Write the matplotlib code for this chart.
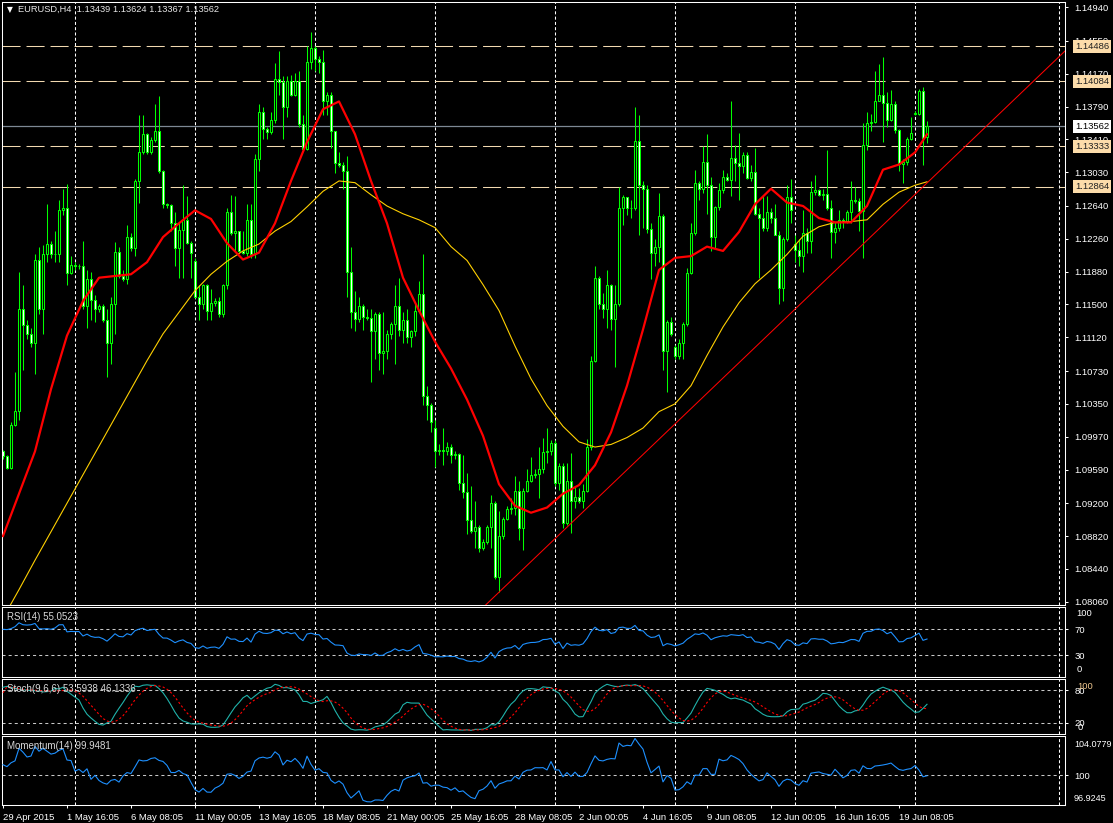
import matplotlib
matplotlib.use("Agg")
import matplotlib.pyplot as plt
import numpy as np

plt.rcParams['font.family'] = ['Liberation Sans', 'DejaVu Sans']
plt.rcParams['lines.scale_dashes'] = False

# EURUSD H4, 29 Apr 2015 00:00 - 22 Jun 2015 12:00 (232 bars)
opens = [
    1.0980, 1.0975, 1.0961, 1.1011, 1.1027, 1.1145, 1.1126, 1.1116, 1.1105, 1.1201,
    1.1145, 1.1208, 1.1220, 1.1209, 1.1208, 1.1259, 1.1262, 1.1186, 1.1196, 1.1194,
    1.1195, 1.1148, 1.1180, 1.1155, 1.1145, 1.1148, 1.1132, 1.1106, 1.1150, 1.1211,
    1.1183, 1.1179, 1.1228, 1.1215, 1.1293, 1.1326, 1.1347, 1.1326, 1.1340, 1.1351,
    1.1304, 1.1266, 1.1265, 1.1244, 1.1215, 1.1236, 1.1248, 1.1221, 1.1200, 1.1159,
    1.1150, 1.1172, 1.1143, 1.1152, 1.1154, 1.1139, 1.1173, 1.1257, 1.1233, 1.1235,
    1.1212, 1.1210, 1.1248, 1.1208, 1.1318, 1.1373, 1.1353, 1.1350, 1.1364, 1.1411,
    1.1408, 1.1378, 1.1409, 1.1393, 1.1409, 1.1359, 1.1330, 1.1431, 1.1447, 1.1434,
    1.1431, 1.1385, 1.1393, 1.1351, 1.1314, 1.1312, 1.1305, 1.1188, 1.1141, 1.1133,
    1.1148, 1.1135, 1.1134, 1.1119, 1.1139, 1.1094, 1.1096, 1.1116, 1.1127, 1.1148,
    1.1121, 1.1132, 1.1112, 1.1119, 1.1143, 1.1162, 1.1044, 1.1034, 1.1007, 1.0981,
    1.0982, 1.0980, 1.0985, 1.0976, 1.0977, 1.0943, 1.0933, 1.0900, 1.0888, 1.0892,
    1.0868, 1.0875, 1.0892, 1.0920, 1.0835, 1.0882, 1.0902, 1.0913, 1.0915, 1.0934,
    1.0891, 1.0934, 1.0946, 1.0953, 1.0954, 1.0960, 1.0979, 1.0981, 1.0990, 1.0943,
    1.0963, 1.0897, 1.0946, 1.0922, 1.0927, 1.0922, 1.0934, 1.0985, 1.1085, 1.1181,
    1.1150, 1.1145, 1.1172, 1.1133, 1.1150, 1.1262, 1.1274, 1.1262, 1.1262, 1.1339,
    1.1288, 1.1284, 1.1237, 1.1210, 1.1217, 1.1252, 1.1096, 1.1130, 1.1101, 1.1090,
    1.1106, 1.1128, 1.1187, 1.1233, 1.1291, 1.1284, 1.1315, 1.1288, 1.1228, 1.1263,
    1.1282, 1.1298, 1.1294, 1.1319, 1.1314, 1.1310, 1.1323, 1.1296, 1.1303, 1.1255,
    1.1250, 1.1238, 1.1257, 1.1250, 1.1231, 1.1169, 1.1226, 1.1274, 1.1220, 1.1213,
    1.1206, 1.1233, 1.1224, 1.1280, 1.1283, 1.1277, 1.1278, 1.1262, 1.1234, 1.1239,
    1.1248, 1.1245, 1.1257, 1.1271, 1.1270, 1.1258, 1.1335, 1.1360, 1.1361, 1.1386,
    1.1392, 1.1383, 1.1364, 1.1382, 1.1352, 1.1313, 1.1315, 1.1342, 1.1371, 1.1371,
    1.1397, 1.13439,
]
highs = [
    1.0982, 1.0976, 1.1014, 1.1072, 1.1188, 1.1172, 1.1132, 1.1123, 1.1208, 1.1217,
    1.1219, 1.1266, 1.1224, 1.1235, 1.1271, 1.1284, 1.1289, 1.1206, 1.1199, 1.1197,
    1.1224, 1.1190, 1.1188, 1.1161, 1.1150, 1.1150, 1.1145, 1.1159, 1.1222, 1.1217,
    1.1190, 1.1242, 1.1233, 1.1295, 1.1369, 1.1369, 1.1349, 1.1344, 1.1382, 1.1391,
    1.1306, 1.1268, 1.1266, 1.1257, 1.1244, 1.1288, 1.1275, 1.1224, 1.1204, 1.1172,
    1.1174, 1.1174, 1.1168, 1.1157, 1.1159, 1.1174, 1.1262, 1.1277, 1.1275, 1.1235,
    1.1235, 1.1266, 1.1266, 1.1324, 1.1382, 1.1378, 1.1355, 1.1373, 1.1429, 1.1443,
    1.1414, 1.1414, 1.1416, 1.1418, 1.1420, 1.1369, 1.1449, 1.1465, 1.1449, 1.1438,
    1.1445, 1.1396, 1.1396, 1.1351, 1.1326, 1.1315, 1.1322, 1.1217, 1.1166, 1.1159,
    1.1150, 1.1145, 1.1145, 1.1141, 1.1141, 1.1141, 1.1121, 1.1130, 1.1172, 1.1181,
    1.1141, 1.1145, 1.1121, 1.1150, 1.1177, 1.1208, 1.1056, 1.1036, 1.1016, 1.0989,
    1.1007, 1.0991, 1.0989, 1.0981, 1.0978, 1.0976, 1.0955, 1.0940, 1.0922, 1.0895,
    1.0879, 1.0895, 1.0929, 1.0922, 1.0911, 1.0904, 1.0917, 1.0926, 1.0951, 1.0946,
    1.0938, 1.0960, 1.0973, 1.0960, 1.0985, 1.0996, 1.1007, 1.0993, 1.0993, 1.0967,
    1.0967, 1.0967, 1.0978, 1.0940, 1.0938, 1.0942, 1.0994, 1.1090, 1.1195, 1.1183,
    1.1163, 1.1190, 1.1174, 1.1172, 1.1286, 1.1277, 1.1274, 1.1271, 1.1379, 1.1369,
    1.1293, 1.1288, 1.1244, 1.1226, 1.1279, 1.1255, 1.1132, 1.1136, 1.1103, 1.1110,
    1.1130, 1.1192, 1.1244, 1.1306, 1.1293, 1.1333, 1.1347, 1.1297, 1.1264, 1.1291,
    1.1306, 1.1302, 1.1386, 1.1335, 1.1349, 1.1326, 1.1326, 1.1311, 1.1331, 1.1262,
    1.1277, 1.1275, 1.1262, 1.1266, 1.1235, 1.1228, 1.1288, 1.1295, 1.1230, 1.1226,
    1.1259, 1.1239, 1.1293, 1.1300, 1.1284, 1.1284, 1.1329, 1.1271, 1.1246, 1.1259,
    1.1250, 1.1259, 1.1293, 1.1286, 1.1273, 1.1360, 1.1373, 1.1371, 1.1420, 1.1428,
    1.1436, 1.1396, 1.1398, 1.1385, 1.1353, 1.1318, 1.1344, 1.1367, 1.1374, 1.1399,
    1.1402, 1.13624,
]
lows = [
    1.0971, 1.0960, 1.0960, 1.1009, 1.1016, 1.1074, 1.1110, 1.1101, 1.1070, 1.1139,
    1.1116, 1.1199, 1.1204, 1.1199, 1.1199, 1.1253, 1.1172, 1.1185, 1.1190, 1.1191,
    1.1145, 1.1123, 1.1132, 1.1130, 1.1141, 1.1130, 1.1066, 1.1081, 1.1116, 1.1181,
    1.1177, 1.1174, 1.1212, 1.1206, 1.1268, 1.1324, 1.1324, 1.1324, 1.1338, 1.1302,
    1.1262, 1.1262, 1.1235, 1.1195, 1.1181, 1.1181, 1.1220, 1.1181, 1.1157, 1.1132,
    1.1145, 1.1132, 1.1132, 1.1148, 1.1136, 1.1136, 1.1168, 1.1230, 1.1212, 1.1211,
    1.1208, 1.1206, 1.1204, 1.1204, 1.1304, 1.1342, 1.1342, 1.1347, 1.1360, 1.1393,
    1.1342, 1.1367, 1.1391, 1.1391, 1.1355, 1.1329, 1.1329, 1.1423, 1.1420, 1.1418,
    1.1369, 1.1369, 1.1331, 1.1302, 1.1309, 1.1284, 1.1159, 1.1123, 1.1119, 1.1130,
    1.1121, 1.1132, 1.1060, 1.1087, 1.1074, 1.1069, 1.1087, 1.1110, 1.1081, 1.1114,
    1.1105, 1.1105, 1.1101, 1.1114, 1.1141, 1.1034, 1.1016, 1.1002, 1.0962, 1.0976,
    1.0964, 1.0976, 1.0967, 1.0971, 1.0935, 1.0926, 1.0884, 1.0886, 1.0868, 1.0864,
    1.0866, 1.0873, 1.0868, 1.0832, 1.0817, 1.0879, 1.0900, 1.0908, 1.0906, 1.0877,
    1.0866, 1.0933, 1.0945, 1.0949, 1.0926, 1.0955, 1.0967, 1.0976, 1.0940, 1.0935,
    1.0891, 1.0895, 1.0886, 1.0915, 1.0920, 1.0915, 1.0933, 1.0982, 1.1083, 1.1145,
    1.1134, 1.1123, 1.1121, 1.1078, 1.1148, 1.1242, 1.1253, 1.1250, 1.1259, 1.1230,
    1.1239, 1.1233, 1.1179, 1.1195, 1.1199, 1.1074, 1.1049, 1.1114, 1.1087, 1.1087,
    1.1087, 1.1125, 1.1185, 1.1230, 1.1271, 1.1279, 1.1255, 1.1212, 1.1215, 1.1259,
    1.1279, 1.1293, 1.1275, 1.1293, 1.1271, 1.1302, 1.1295, 1.1293, 1.1253, 1.1181,
    1.1235, 1.1235, 1.1244, 1.1230, 1.1150, 1.1154, 1.1224, 1.1244, 1.1199, 1.1195,
    1.1188, 1.1210, 1.1210, 1.1277, 1.1275, 1.1271, 1.1259, 1.1204, 1.1221, 1.1235,
    1.1239, 1.1244, 1.1244, 1.1268, 1.1235, 1.1204, 1.1329, 1.1351, 1.1360, 1.1385,
    1.1338, 1.1355, 1.1362, 1.1349, 1.1304, 1.1291, 1.1311, 1.1340, 1.1369, 1.1369,
    1.1311, 1.13367,
]
closes = [
    1.0975, 1.0961, 1.1011, 1.1027, 1.1145, 1.1126, 1.1116, 1.1105, 1.1201, 1.1145,
    1.1208, 1.1220, 1.1209, 1.1208, 1.1259, 1.1262, 1.1186, 1.1196, 1.1194, 1.1195,
    1.1148, 1.1180, 1.1155, 1.1145, 1.1148, 1.1132, 1.1106, 1.1150, 1.1211, 1.1183,
    1.1179, 1.1228, 1.1215, 1.1293, 1.1326, 1.1347, 1.1326, 1.1340, 1.1351, 1.1304,
    1.1266, 1.1265, 1.1244, 1.1215, 1.1236, 1.1248, 1.1221, 1.1210, 1.1159, 1.1150,
    1.1172, 1.1143, 1.1152, 1.1154, 1.1139, 1.1173, 1.1257, 1.1233, 1.1235, 1.1212,
    1.1210, 1.1248, 1.1208, 1.1318, 1.1373, 1.1353, 1.1350, 1.1364, 1.1411, 1.1408,
    1.1378, 1.1409, 1.1393, 1.1409, 1.1359, 1.1330, 1.1431, 1.1447, 1.1434, 1.1431,
    1.1385, 1.1393, 1.1351, 1.1314, 1.1312, 1.1305, 1.1188, 1.1141, 1.1133, 1.1148,
    1.1135, 1.1134, 1.1119, 1.1139, 1.1094, 1.1096, 1.1116, 1.1127, 1.1148, 1.1121,
    1.1132, 1.1112, 1.1119, 1.1143, 1.1162, 1.1044, 1.1034, 1.1014, 1.0981, 1.0982,
    1.0980, 1.0985, 1.0976, 1.0977, 1.0943, 1.0933, 1.0900, 1.0888, 1.0892, 1.0868,
    1.0875, 1.0892, 1.0920, 1.0835, 1.0882, 1.0902, 1.0913, 1.0915, 1.0934, 1.0891,
    1.0934, 1.0946, 1.0953, 1.0954, 1.0960, 1.0979, 1.0981, 1.0990, 1.0943, 1.0963,
    1.0897, 1.0946, 1.0922, 1.0927, 1.0922, 1.0934, 1.0985, 1.1085, 1.1181, 1.1150,
    1.1145, 1.1172, 1.1133, 1.1150, 1.1262, 1.1274, 1.1262, 1.1262, 1.1339, 1.1288,
    1.1284, 1.1237, 1.1210, 1.1217, 1.1252, 1.1096, 1.1130, 1.1116, 1.1090, 1.1106,
    1.1128, 1.1187, 1.1233, 1.1291, 1.1284, 1.1315, 1.1288, 1.1228, 1.1263, 1.1282,
    1.1298, 1.1294, 1.1319, 1.1314, 1.1310, 1.1323, 1.1296, 1.1303, 1.1255, 1.1250,
    1.1238, 1.1257, 1.1250, 1.1231, 1.1169, 1.1226, 1.1274, 1.1259, 1.1213, 1.1206,
    1.1233, 1.1224, 1.1280, 1.1283, 1.1277, 1.1278, 1.1262, 1.1234, 1.1239, 1.1248,
    1.1245, 1.1257, 1.1271, 1.1270, 1.1258, 1.1335, 1.1360, 1.1361, 1.1386, 1.1392,
    1.1383, 1.1364, 1.1382, 1.1352, 1.1313, 1.1315, 1.1342, 1.1349, 1.1372, 1.1397,
    1.1343, 1.13562,
]

# moving averages every 4 bars
ma_bars = list(range(0, 229, 4)) + [231]
ma_red = [
    1.0882, 1.0931, 1.0980, 1.1052, 1.1114, 1.1154, 1.1181, 1.1183, 1.1185, 1.1199,
    1.1228, 1.1244, 1.1259, 1.1249, 1.1221, 1.1202, 1.1210, 1.1244, 1.1293, 1.1338,
    1.1376, 1.1385, 1.1347, 1.1293, 1.1244, 1.1181, 1.1143, 1.1107, 1.1076, 1.1040,
    1.0998, 1.0942, 1.0917, 1.0909, 1.0915, 1.0931, 1.0941, 1.0964, 1.1002, 1.1056,
    1.1121, 1.1190, 1.1204, 1.1206, 1.1217, 1.1212, 1.1234, 1.1266, 1.1284, 1.1268,
    1.1264, 1.1250, 1.1245, 1.1245, 1.1264, 1.1306, 1.1312, 1.1326, 1.1347,
]
ma_yellow = [
    1.0787, 1.0820, 1.0854, 1.0887, 1.0920, 1.0953, 1.0986, 1.1019, 1.1052, 1.1085,
    1.1116, 1.1141, 1.1166, 1.1185, 1.1200, 1.1212, 1.1220, 1.1235, 1.1246, 1.1263,
    1.1281, 1.1293, 1.1291, 1.1277, 1.1264, 1.1255, 1.1248, 1.1239, 1.1217, 1.1201,
    1.1173, 1.1143, 1.1102, 1.1064, 1.1033, 1.1009, 1.0991, 1.0985, 1.0988, 1.0996,
    1.1007, 1.1026, 1.1035, 1.1056, 1.1091, 1.1124, 1.1152, 1.1174, 1.1190, 1.1208,
    1.1229, 1.1240, 1.1245, 1.1246, 1.1248, 1.1266, 1.1280, 1.1288, 1.1292,
]

# indicator values of the first bars (history before 29 Apr is off-chart),
# read off the sub-windows
rsi_head = [70.0, 69.5, 71.0, 74.0, 80.0, 77.0, 76.5, 77.0, 79.0, 71.0,
            70.5, 71.0, 70.0, 72.0]
mom_head = [101.1, 100.9, 101.3, 101.5, 102.8, 102.4, 101.9, 102.0, 103.0, 102.5,
            102.8, 102.5, 102.2, 102.3]
stoch_main_head = [85.0, 86.5, 85.0, 83.0, 81.0, 80.5, 80.0, 79.0, 78.7, 78.0,
                   76.5, 77.0, 78.0]
stoch_sig_head = [75.0, 86.0, 85.5, 84.0, 82.0, 81.0, 80.5, 80.0, 79.5, 79.0,
                  78.5, 78.0, 78.0, 78.0, 78.5, 79.0, 80.0, 80.0]

# trendline anchors (bar, price)
trend_bars = [124, 267]
trend_prices = [1.0817, 1.1450]

level_prices = [1.14486, 1.14084, 1.13333, 1.12864]
bid_price = 1.13562
price_ticks = [1.14940, 1.14550, 1.14170, 1.13790, 1.13410, 1.13030, 1.12640,
               1.12260, 1.11880, 1.11500, 1.11120, 1.10730, 1.10350, 1.09970,
               1.09590, 1.09200, 1.08820, 1.08440, 1.08060]

time_labels = ["29 Apr 2015", "1 May 16:05", "6 May 08:05", "11 May 00:05",
               "13 May 16:05", "18 May 08:05", "21 May 00:05", "25 May 16:05",
               "28 May 08:05", "2 Jun 00:05", "4 Jun 16:05", "9 Jun 08:05",
               "12 Jun 00:05", "16 Jun 16:05", "19 Jun 08:05"]
label_bars = list(range(0, 225, 16))
week_bars = [18, 48, 78, 108, 138, 168, 198, 228, 264]

n = len(closes)
assert len(opens) == len(highs) == len(lows) == n
o = np.array(opens)
h = np.array(highs)
l = np.array(lows)
c = np.array(closes)
x = np.arange(n)


# wskazniki
def rsi(c, p=14):
    d = np.diff(c)
    g = np.where(d > 0, d, 0.0)
    s = np.where(d < 0, -d, 0.0)
    out = np.full(len(c), np.nan)
    ag, al = g[:p].mean(), s[:p].mean()
    out[p] = 100 - 100 / (1 + ag / al)
    for i in range(p + 1, len(c)):
        ag = (ag * (p - 1) + g[i - 1]) / p
        al = (al * (p - 1) + s[i - 1]) / p
        out[i] = 100 - 100 / (1 + ag / al)
    return out


def stoch(h, l, c, k=9, d=6, slow=6):
    num = np.full(len(c), np.nan)
    den = np.full(len(c), np.nan)
    for i in range(k - 1, len(c)):
        ll = l[i - k + 1:i + 1].min()
        hh = h[i - k + 1:i + 1].max()
        num[i] = c[i] - ll
        den[i] = hh - ll
    main = np.full(len(c), np.nan)
    for i in range(k - 1 + slow - 1, len(c)):
        main[i] = num[i - slow + 1:i + 1].sum() / den[i - slow + 1:i + 1].sum() * 100
    sig = np.full(len(c), np.nan)
    start = k - 1 + slow - 1 + d - 1
    for i in range(start, len(c)):
        sig[i] = main[i - d + 1:i + 1].mean()
    return main, sig


rsi_v = rsi(c)
rsi_v[:len(rsi_head)] = rsi_head
st_main, st_sig = stoch(h, l, c)
st_main[:len(stoch_main_head)] = stoch_main_head
st_sig[:len(stoch_sig_head)] = stoch_sig_head
mom = np.full(n, np.nan)
mom[14:] = c[14:] / c[:-14] * 100
mom[:len(mom_head)] = mom_head

W, H = 1113, 823
fig = plt.figure(figsize=(W / 100, H / 100), dpi=100, facecolor='black')


def panel(top, bottom):
    ax = fig.add_axes([2 / W, 1 - bottom / H, 1063 / W, (bottom - top) / H])
    ax.set_facecolor('black')
    for sp in ax.spines.values():
        sp.set_color('white')
        sp.set_linewidth(0.75)
    ax.set_xlim(-0.25, 265.5)
    ax.set_xticks([])
    ax.yaxis.tick_right()
    ax.tick_params(axis='y', colors='white', labelsize=6.8, length=2.5,
                   width=0.75, pad=4.5)
    for wb in week_bars:
        ax.axvline(wb, color='white', lw=0.75, ls=(0, (2.2, 1.6)), zorder=1)
    return ax


lime = '#00ff00'

# --- wykres glowny ---
ax = panel(2, 605)
ax.set_ylim(1.08022, 1.15001)
ax.set_yticks(price_ticks)
ax.set_yticklabels([f"{p:.5f}" for p in price_ticks])

for lp in level_prices:
    ax.axhline(lp, color='#f2d9b0', lw=0.75, ls=(0, (13, 4.3)), zorder=1.5)
ax.axhline(bid_price, color='#7d8894', lw=0.9, zorder=1.5)

ax.vlines(x, l, h, color=lime, lw=0.75, zorder=2)
fill = np.where(c >= o, 'black', 'white')
ax.bar(x, c - o, bottom=o, width=0.55, color=fill, edgecolor=lime,
       linewidth=0.75, zorder=2.5)

ax.plot(ma_bars, ma_yellow, color='#ffd000', lw=0.8, zorder=3)
ax.plot(ma_bars, ma_red, color='#ff0000', lw=1.6, zorder=3.2)
ax.axline((trend_bars[0], trend_prices[0]), (trend_bars[1], trend_prices[1]),
          color='#ff0000', lw=0.75, zorder=3.1)

yt = ax.get_yaxis_transform()
for lp in level_prices:
    ax.text(1.0094, lp, f"{lp:.5f}", transform=yt, ha='left', va='center',
            fontsize=6.8, color='#202020', clip_on=False, zorder=5,
            bbox=dict(boxstyle='square,pad=0.22', fc='#fcdcaa', ec='none'))
ax.text(1.0094, bid_price, f"{bid_price:.5f}", transform=yt, ha='left',
        va='center', fontsize=6.8, color='black', clip_on=False, zorder=5,
        bbox=dict(boxstyle='square,pad=0.22', fc='white', ec='none'))

fig.text(7 / W, 1 - 9.5 / H, "\u25bc", color='white', fontsize=5.5,
         va='center', family='DejaVu Sans')
fig.text(18 / W, 1 - 9.5 / H, "EURUSD,H4  1.13439 1.13624 1.13367 1.13562",
         color='#e8e8e8', fontsize=6.7, va='center')

# --- RSI ---
ax_r = panel(607, 677)
ax_r.set_ylim(-3.4, 104.3)
ax_r.set_yticks([70, 30])
ax_r.set_yticklabels(['70', '30'])
for lv in (70, 30):
    ax_r.axhline(lv, color='#c8c8c8', lw=0.75, ls=(0, (2.2, 2.2)), zorder=1)
ax_r.plot(x, rsi_v, color='#1e90ff', lw=0.8, zorder=3)
ax_r.text(1.0105, 0.9, "100", transform=ax_r.transAxes, color='white',
          fontsize=6.8, va='center', clip_on=False)
ax_r.text(1.0105, 0.11, "0", transform=ax_r.transAxes, color='white',
          fontsize=6.8, va='center', clip_on=False)
fig.text(7 / W, 1 - 617 / H, "RSI(14) 55.0523", color='#d8d8d8', fontsize=7,
         va='center')

# --- Stochastic ---
ax_s = panel(679, 734)
ax_s.set_ylim(0, 100)
ax_s.set_yticks([80, 20])
ax_s.set_yticklabels(['80', '20'])
for lv in (80, 20):
    ax_s.axhline(lv, color='#c8c8c8', lw=0.75, ls=(0, (2.2, 2.2)), zorder=1)
ax_s.plot(x, st_main, color='#20b2aa', lw=0.8, zorder=3)
ax_s.plot(x, st_sig, color='#ff0000', lw=0.8, ls=(0, (1.6, 1.6)), zorder=3)
ax_s.text(1.0115, 0.86, "100", transform=ax_s.transAxes, color='#f0c890',
          fontsize=6.8, va='center', clip_on=False)
ax_s.text(1.0115, 0.12, "0", transform=ax_s.transAxes, color='white',
          fontsize=6.8, va='center', clip_on=False)
fig.text(7 / W, 1 - 689 / H, "Stoch(9,6,6) 53.5938 46.1336", color='#d8d8d8',
         fontsize=7, va='center')

# --- Momentum ---
ax_m = panel(736, 805)
ax_m.set_ylim(96.9245, 104.0779)
ax_m.set_yticks([100])
ax_m.set_yticklabels(['100'])
ax_m.axhline(100, color='#c8c8c8', lw=0.75, ls=(0, (2.2, 2.2)), zorder=1)
ax_m.plot(x, mom, color='#1e90ff', lw=0.8, zorder=3)
ax_m.text(1.0085, 0.87, "104.0779", transform=ax_m.transAxes, color='white',
          fontsize=6.5, va='center', clip_on=False)
ax_m.text(1.0085, 0.09, "96.9245", transform=ax_m.transAxes, color='white',
          fontsize=6.5, va='center', clip_on=False)
fig.text(7 / W, 1 - 746 / H, "Momentum(14) 99.9481", color='#d8d8d8',
         fontsize=7, va='center')

ax_m.set_xticks(label_bars)
ax_m.set_xticklabels(time_labels, ha='left')
ax_m.tick_params(axis='x', colors='white', labelsize=6.8, length=2.5,
                 width=0.75, pad=3)

fig.savefig('out.png', dpi=100, facecolor='black')
